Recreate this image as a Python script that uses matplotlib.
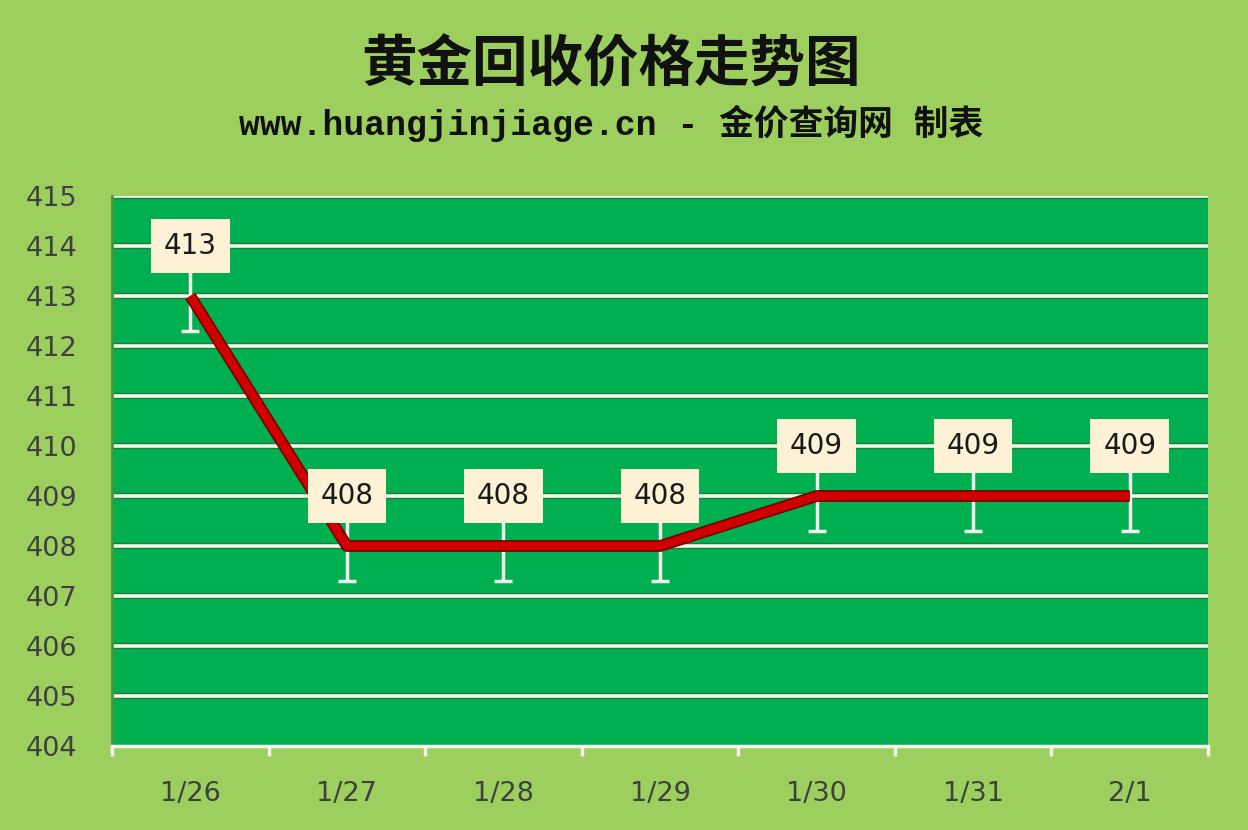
import numpy as np
import matplotlib.pyplot as plt

dates = ['1/26', '1/27', '1/28', '1/29', '1/30', '1/31', '2/1']
prices = [413, 408, 408, 408, 409, 409, 409]
err = [0.7, 0.7, 0.7, 0.7, 0.7, 0.7, 0.7]

bg = '#9dcf5f'
plot_bg = '#00b050'

fig = plt.figure(figsize=(12.48, 8.3), dpi=100, facecolor=bg)
ax = fig.add_axes([112 / 1248, 84 / 830, 1096 / 1248, 550 / 830])
ax.set_facecolor(plot_bg)

x = np.arange(len(dates))

# grid lines
for v in range(405, 416):
    ax.axhline(v, color='#1e7a3c', lw=4.5, zorder=1)
    ax.axhline(v, color='#f2f7e6', lw=2.6, zorder=1.1)

# error bars (upper half hidden under label box)
ax.errorbar(x, prices, yerr=err, fmt='none', ecolor='#f4f4ee', elinewidth=2.5,
            capsize=6.5, capthick=2.5, zorder=2)

ax.plot(x, prices, color='#7a0000', lw=8.5, solid_capstyle='butt', zorder=3)
ax.plot(x, prices, color='#d00000', lw=6, solid_capstyle='butt', zorder=3.1)

for xi, p in zip(x, prices):
    ax.text(xi, p + 1, str(p), ha='center', va='center', fontsize=20,
            family='DejaVu Sans', color='#1a1a1a', zorder=5,
            bbox=dict(boxstyle='square,pad=0.46', fc='#fdf1d6', ec='none'))

ax.set_xlim(-0.5, len(dates) - 0.5)
ax.set_ylim(404, 415)
ax.set_yticks(range(404, 416))
ax.set_yticklabels([str(v) for v in range(404, 416)])
ax.set_xticks(x)
ax.set_xticklabels(dates)
ax.set_xticks(np.arange(-0.5, len(dates)), minor=True)

ax.tick_params(axis='y', length=0, labelsize=19.5, labelcolor='#404040', pad=25)
ax.tick_params(axis='x', which='major', length=0, labelsize=19.5,
               labelcolor='#404040', pad=25)
ax.tick_params(axis='x', which='minor', length=7, width=2.5, color='#f4f4ee',
               direction='out')

for s in ['top', 'right']:
    ax.spines[s].set_visible(False)
ax.spines['left'].set_color('#3d9a3a')
ax.spines['left'].set_linewidth(2)
ax.spines['bottom'].set_color('#f4f4ee')
ax.spines['bottom'].set_linewidth(2.5)

fig.text(0.49, 0.921, '黄金回收价格走势图', ha='center', va='center',
         fontsize=40, fontweight='bold', family=['Noto Sans CJK SC'],
         color='#111111')
fig.text(0.49, 0.851, 'www.huangjinjiage.cn - 金价查询网 制表', ha='center',
         va='center', fontsize=25, fontweight='bold',
         family=['Liberation Mono', 'Noto Sans CJK SC'], color='#111111')

fig.savefig('out.png', dpi=100, facecolor=bg)
